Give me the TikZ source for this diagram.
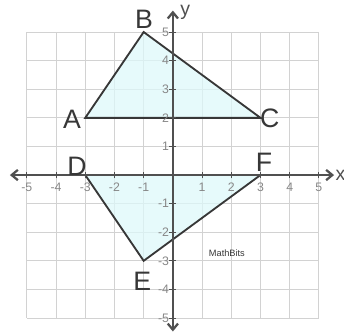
\documentclass[tikz,border=0pt]{standalone}
\usepackage{fontspec}
\setmainfont{Liberation Sans}
\usepackage{xcolor}
\usepackage{tikz}
\usetikzlibrary{arrows.meta}
\definecolor{gridgray}{RGB}{210,210,210}
\definecolor{axisgray}{RGB}{80,80,80}
\definecolor{edgegray}{RGB}{55,55,55}
\definecolor{tickgray}{RGB}{135,135,135}
\definecolor{trifill}{RGB}{222,248,250}

\begin{document}
\begin{tikzpicture}[
  x=0.5cm, y=0.4897cm,
  gridline/.style={draw=gridgray, line width=0.5pt},
  axis/.style={draw=axisgray, line width=1.1pt, {Straight Barb[length=3pt,width=5pt]}-{Straight Barb[length=3pt,width=5pt]}},
  tri/.style={draw=edgegray, fill=trifill, fill opacity=0.75, line width=0.9pt, line join=miter},
  ticklbl/.style={text=tickgray, font=\fontsize{6}{7}\selectfont, inner sep=0pt},
  ptlbl/.style={font=\fontsize{13}{15}\selectfont, text=edgegray, inner sep=0pt}
]
\useasboundingbox (-5.92,-5.49) rectangle (5.86,6.12);

% grid
\foreach \k in {-5,...,5} {
  \draw[gridline] (\k,-5) -- (\k,5);
  \draw[gridline] (-5,\k) -- (5,\k);
}

% triangles
\coordinate (A) at (-3,2);
\coordinate (B) at (-1,5);
\coordinate (C) at (3,2);
\coordinate (D) at (-3,0);
\coordinate (E) at (-1,-3);
\coordinate (F) at (3,0);
\draw[tri] (A) -- (B) -- (C) -- cycle;
\draw[tri] (D) -- (E) -- (F) -- cycle;

% axes
\coordinate (xlo) at (-5.58,0);
\coordinate (xhi) at (5.52,0);
\coordinate (ylo) at (0,-5.47);
\coordinate (yhi) at (0,5.75);
\draw[axis] (xlo) -- (xhi);
\draw[axis] (ylo) -- (yhi);
\node[font=\fontsize{9.5}{10}\selectfont, text=axisgray, inner sep=0pt] (xlbl) at (5.74,0) {x};
\node[font=\fontsize{9.5}{10}\selectfont, text=axisgray, inner sep=0pt] (ylbl) at (0.42,5.7) {y};

% ticks and numbers
\foreach \k in {-5,...,-1,1,2,...,5} {
  \draw[axisgray, line width=0.5pt] (\k,-0.12) -- (\k,0.12);
  \draw[axisgray, line width=0.5pt] (-0.12,\k) -- (0.12,\k);
  \node[ticklbl] (xt\k) at (\k,-0.42) {\k};
  \node[ticklbl, anchor=east] (yt\k) at (-0.12,\k) {\k};
}

% vertex labels
\node[ptlbl] (lblA) at (-3.45,1.94) {A};
\node[ptlbl] (lblB) at (-0.99,5.45) {B};
\node[ptlbl] (lblC) at (3.32,1.98) {C};
\node[ptlbl] (lblD) at (-3.28,0.32) {D};
\node[ptlbl] (lblE) at (-1.05,-3.72) {E};
\node[ptlbl] (lblF) at (3.12,0.45) {F};

\node[font=\fontsize{4.5}{5}\selectfont, text=edgegray] (mark) at (1.85,-2.73) {MathBits};
\end{tikzpicture}
\end{document}
